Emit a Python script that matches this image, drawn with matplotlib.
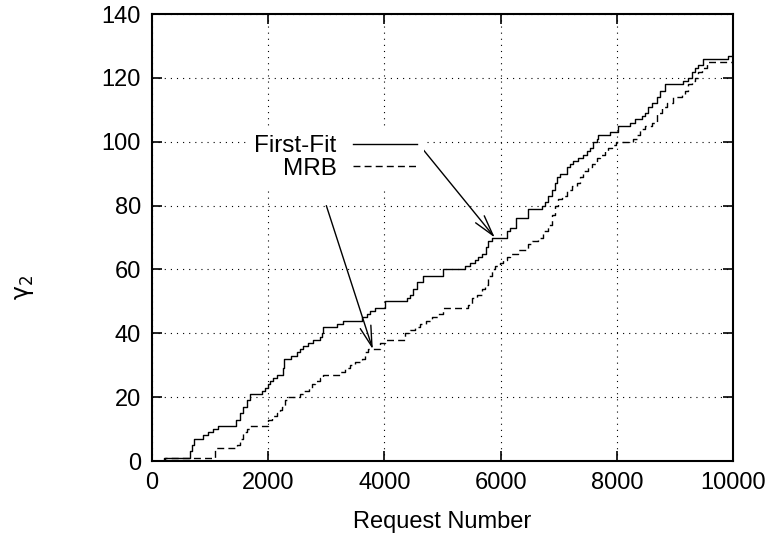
import matplotlib
matplotlib.use('Agg')
import matplotlib.pyplot as plt

plt.rcParams['font.family'] = ['Liberation Sans', 'DejaVu Sans']
plt.rcParams['mathtext.fontset'] = 'dejavusans'

# First-Fit: step change points (request number, gamma_2)
ff_x = [0, 200, 650, 690, 720, 878, 964, 1050, 1136, 1450, 1510, 1570, 1630, 1690,
        1893, 1945, 1990, 2030, 2090, 2150, 2260, 2280, 2400, 2490, 2547, 2604, 2690,
        2776, 2891, 2920, 2950, 3178, 3293, 3609, 3700, 3752, 3838, 4010, 4394, 4440,
        4497, 4555, 4658, 5013, 5387, 5473, 5559, 5616, 5674, 5748, 5788, 5846, 6104,
        6162, 6265, 6477, 6706, 6763, 6821, 6878, 6936, 6964, 7022, 7137, 7194, 7251,
        7337, 7423, 7481, 7538, 7596, 7653, 7682, 7883, 8026, 8227, 8313, 8428, 8485,
        8542, 8600, 8686, 8743, 8830, 9145, 9231, 9289, 9346, 9403, 9489, 9919, 10000]
ff_y = [0, 1, 3, 5, 7, 8, 9, 10, 11, 13, 15, 17, 19, 21,
        22, 23, 24, 25, 26, 27, 29, 32, 33, 34, 35, 36, 37,
        38, 39, 40, 42, 43, 44, 45, 46, 47, 48, 50, 51, 52,
        54, 56, 58, 60, 61, 62, 63, 64, 65, 67, 69, 70, 72,
        73, 76, 79, 80, 81, 83, 85, 87, 89, 90, 92, 93, 94,
        95, 96, 97, 98, 100, 101, 102, 103, 105, 106, 107, 108, 109,
        111, 112, 114, 116, 118, 119, 120, 122, 123, 124, 126, 127, 127]

# MRB
mrb_x = [0, 220, 1085, 1457, 1510, 1570, 1630, 1690, 2003, 2060, 2146, 2200, 2232,
         2289, 2318, 2547, 2604, 2700, 2748, 2805, 2891, 2948, 3236, 3322, 3408, 3494,
         3609, 3666, 3723, 3924, 4010, 4354, 4440, 4530, 4620, 4720, 4813, 4930, 5013,
         5444, 5502, 5588, 5674, 5731, 5788, 5846, 5903, 5990, 6047, 6104, 6162, 6305,
         6477, 6535, 6650, 6735, 6821, 6878, 6936, 6993, 7050, 7137, 7223, 7309, 7366,
         7423, 7509, 7567, 7653, 7710, 7796, 7854, 7911, 7985, 8284, 8342, 8399, 8485,
         8600, 8686, 8772, 8858, 8973, 9116, 9174, 9231, 9289, 9346, 9403, 9460, 9546,
         10000]
mrb_y = [0, 1, 4, 5, 7, 9, 10, 11, 13, 14, 15, 16, 17,
         19, 20, 21, 22, 23, 24, 25, 26, 27, 28, 29, 30, 31,
         32, 34, 35, 37, 38, 40, 41, 42, 43, 44, 45, 46, 48,
         49, 51, 52, 54, 55, 58, 60, 61, 62, 63, 64, 65, 66,
         68, 69, 70, 72, 74, 77, 80, 82, 83, 85, 86, 87, 89,
         91, 92, 93, 95, 96, 97, 98, 99, 100, 101, 102, 104, 105,
         106, 109, 111, 112, 114, 115, 116, 118, 119, 120, 122, 123, 125,
         125]

xticks = [0, 2000, 4000, 6000, 8000, 10000]
yticks = [0, 20, 40, 60, 80, 100, 120, 140]

fig = plt.figure(figsize=(7.69, 5.43), dpi=100)
ax = fig.add_axes([0.1977, 0.151, 0.7555, 0.823])

ax.plot(ff_x, ff_y, drawstyle='steps-post', color='black', lw=1.0, label='First-Fit')
ax.plot(mrb_x, mrb_y, drawstyle='steps-post', color='black', lw=1.0,
        dashes=(5, 3), label='MRB')

ax.set_xlim(0, 10000)
ax.set_ylim(0, 140)
ax.set_xticks(xticks)
ax.set_yticks(yticks)
ax.grid(True, linestyle=(0, (1, 4.5)), color='black', lw=0.8)
ax.tick_params(direction='in', length=7, width=1.2, top=True, right=True,
               labelsize=17, pad=8)
for s in ax.spines.values():
    s.set_linewidth(1.5)

ax.set_xlabel('Request Number', fontsize=17, labelpad=12)
ax.set_ylabel(r'$\mathrm{\gamma}_2$', fontsize=17, rotation=90)
ax.yaxis.set_label_coords(-0.199, 0.389)

leg = ax.legend(loc='upper right', bbox_to_anchor=(0.468, 0.745), borderaxespad=0,
                markerfirst=False, fontsize=17.5, handlelength=2.6, handletextpad=0.7,
                labelspacing=0.02, borderpad=0.3, fancybox=False)
leg.get_frame().set_edgecolor('none')
leg.get_frame().set_facecolor('white')
leg.get_frame().set_alpha(1)

arrow = dict(arrowstyle='->, head_length=1.5, head_width=0.4', color='black',
             lw=1.0, mutation_scale=10, shrinkA=0, shrinkB=0)
ax.annotate('', xy=(5900, 70), xytext=(4580, 99.5), arrowprops=arrow)
ax.annotate('', xy=(3800, 35), xytext=(3000, 80), arrowprops=arrow)

fig.savefig('out.png', dpi=100)
